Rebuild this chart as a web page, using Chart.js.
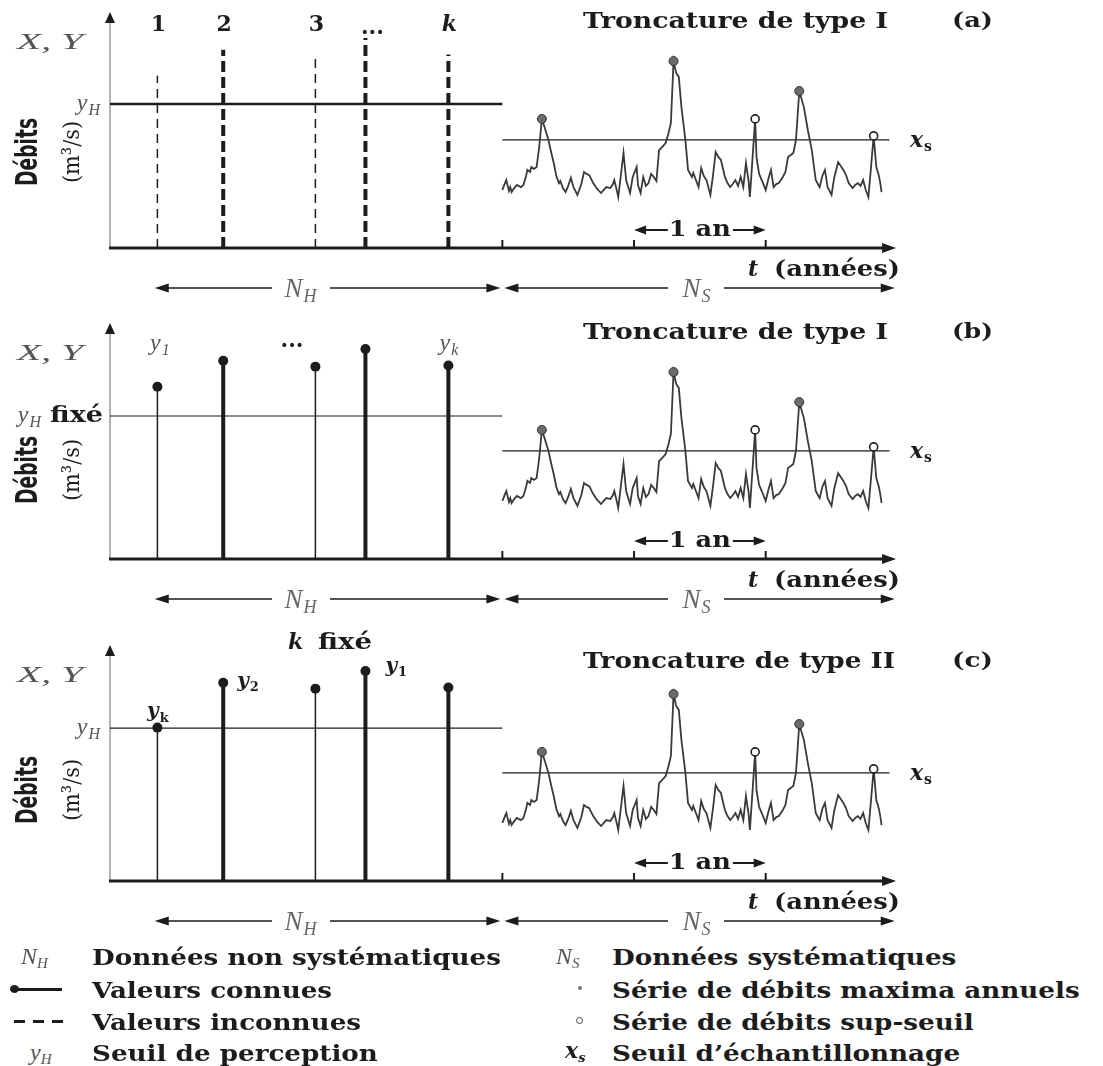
<!DOCTYPE html>
<html>
<head>
<meta charset="utf-8">
<script src="https://cdn.jsdelivr.net/npm/chart.js@4.4.1/dist/chart.umd.min.js"></script>
<style>
  body { margin: 0; background: #fff; width: 1103px; height: 1066px; position: relative; overflow: hidden; }
  canvas.panel { position: absolute; left: 0; }
  .lg { position: absolute; white-space: nowrap; transform: translateY(-50%); transform-origin: left center; color: #1c1c1c; }
  .txt { font: bold 22px "DejaVu Serif", serif; transform: translateY(-50%) scaleX(1.19); }
  .math { font: italic 24px "Liberation Serif", serif; color: #555; }
  .math sub { font-size: 15px; vertical-align: -4px; }
  .mathb { font: bold italic 22px "DejaVu Serif", serif; }
  .mathb sub { font-size: 13px; vertical-align: -4px; }
  .symline { position: absolute; height: 3px; background: #1c1c1c; }
  .symdot { position: absolute; width: 9px; height: 8px; border-radius: 50%; background: #1c1c1c; }
  .symdash { position: absolute; height: 3px; background: repeating-linear-gradient(90deg, #1c1c1c 0 11px, transparent 11px 19px); }
  .symmax { position: absolute; width: 4px; height: 4px; border-radius: 50%; background: #777; }
  .symsup { position: absolute; width: 5px; height: 5px; border-radius: 50%; border: 1.3px solid #444; }
</style>
</head>
<body>
<canvas id="pa" class="panel"></canvas>
<canvas id="pb" class="panel"></canvas>
<canvas id="pc" class="panel"></canvas>

<div class="lg math" style="left:21px;top:957px">N<sub>H</sub></div>
<div class="lg txt" style="left:92px;top:957px">Données non systématiques</div>
<div class="symline" style="left:14px;top:988px;width:48px"></div>
<div class="symdot" style="left:10px;top:985px"></div>
<div class="lg txt" style="left:92px;top:990px">Valeurs connues</div>
<div class="symdash" style="left:14px;top:1020px;width:49px"></div>
<div class="lg txt" style="left:92px;top:1022px">Valeurs inconnues</div>
<div class="lg math" style="left:30px;top:1053px">y<sub>H</sub></div>
<div class="lg txt" style="left:92px;top:1053px">Seuil de perception</div>

<div class="lg math" style="left:556px;top:957px">N<sub>S</sub></div>
<div class="lg txt" style="left:612px;top:957px">Données systématiques</div>
<div class="symmax" style="left:578px;top:986px"></div>
<div class="lg txt" style="left:612px;top:990px">Série de débits maxima annuels</div>
<div class="symsup" style="left:576px;top:1017px"></div>
<div class="lg txt" style="left:612px;top:1022px">Série de débits sup-seuil</div>
<div class="lg mathb" style="left:565px;top:1051px">x<sub>s</sub></div>
<div class="lg txt" style="left:612px;top:1053px">Seuil d’échantillonnage</div>

<script>
// données non systématiques (crues historiques)
const histYears = [0.36, 0.86, 1.56, 1.94, 2.57];
const histFlowsA = [73, 84, 81.5, 89, 82];
const histFlowsB = [73, 84, 81.5, 89, 82];
const histFlowsC = [65, 84, 81.5, 89, 82];
const topLabelsA = ['1', '2', '3', '...', 'k'];

// seuils
const yHValues = [61, 60.6, 64.8];
const xsValue = 45.8;

// données systématiques
const sysStart = 2.98;
const yearTicks = [2.98, 3.98, 4.98];
const seriesT = [2.98, 3.0, 3.01, 3.03, 3.04, 3.05, 3.07, 3.09, 3.12, 3.14, 3.16, 3.17, 3.19, 3.2, 3.22, 3.24,
  3.26, 3.28, 3.3, 3.33, 3.35, 3.37, 3.39, 3.41, 3.42, 3.44, 3.46, 3.48, 3.5, 3.52, 3.55, 3.58, 3.6, 3.62,
  3.64, 3.67, 3.7, 3.73, 3.75, 3.77, 3.8, 3.82, 3.83, 3.85, 3.86, 3.88, 3.9, 3.92, 3.95, 3.97, 4.0, 4.01,
  4.03, 4.05, 4.07, 4.09, 4.11, 4.13, 4.15, 4.17, 4.2, 4.22, 4.24, 4.26, 4.28, 4.3, 4.32, 4.34, 4.37, 4.39,
  4.42, 4.43, 4.45, 4.47, 4.49, 4.51, 4.53, 4.56, 4.58, 4.6, 4.62, 4.64, 4.67, 4.69, 4.71, 4.73, 4.75, 4.77,
  4.79, 4.81, 4.83, 4.85, 4.86, 4.88, 4.9, 4.91, 4.93, 4.95, 4.98, 5.0, 5.02, 5.04, 5.06, 5.08, 5.11, 5.13,
  5.15, 5.17, 5.19, 5.21, 5.235, 5.27, 5.3, 5.33, 5.36, 5.38, 5.39, 5.41, 5.43, 5.45, 5.48, 5.5, 5.53, 5.55,
  5.57, 5.59, 5.61, 5.64, 5.66, 5.68, 5.7, 5.72, 5.74, 5.76, 5.78, 5.8, 5.82, 5.84, 5.85, 5.86];
const seriesQ = [24.6, 27.5, 28.8, 24.2, 25.8, 23.7, 25.4, 26.7, 25.8, 26.7, 30.5, 33.1, 32.2, 34.3, 33.5,
  34.3, 42.8, 54.7, 51.3, 45.8, 40.7, 36, 30.5, 27.5, 28.4, 25.4, 23.7, 26.3, 29.7, 25.8, 22.5, 27.1, 32.2,
  31.4, 30.9, 27.5, 25, 23.3, 24.6, 25.8, 25.4, 27.1, 28.8, 24.2, 21.6, 30.9, 40.3, 28.8, 23.3, 30.1, 34.3,
  26.7, 23.3, 30.1, 26.3, 27.5, 31.4, 30.1, 28.4, 41.5, 43.2, 44.5, 48.3, 53, 79.2, 74.2, 72.5, 59.7, 45.8,
  33.1, 30.1, 31.8, 28.8, 25.8, 33.9, 30.5, 28.8, 22.5, 30.9, 40.7, 38.6, 37.3, 30.1, 27.5, 25.8, 27.1,
  28.8, 26.3, 30.1, 25.8, 36, 28.4, 21.6, 38.1, 54.7, 38.6, 31.4, 28.8, 24.6, 29.2, 33.1, 25.8, 27.1, 27.5,
  30.1, 32.2, 38.6, 39.4, 40.3, 45.8, 66.5, 59.7, 50, 41.5, 28.8, 26.7, 25.8, 30.5, 33.1, 25.8, 22.5, 29.7,
  36.4, 34.7, 33.1, 30.9, 27.5, 25.4, 26.7, 27.5, 26.3, 28.8, 24.6, 21.6, 34.3, 47.5, 34.3, 30.5, 27.5, 23.7];
const maxT = [3.28, 4.28, 5.235];
const maxQ = [54.7, 79.2, 66.5];
const supT = [4.9, 5.8];
const supQ = [54.7, 47.5];

const INK = '#1c1c1c';
const stemWidths = [1.5, 4, 1.5, 4, 4];

const panels = [
  { id: 'pa', top: 0, padTop: 12, flows: histFlowsA, yH: yHValues[0], dashed: true, title: 'Troncature de type I', tag: '(a)', titleOff: 10, deb: 96 },
  { id: 'pb', top: 311, padTop: 12, flows: histFlowsB, yH: yHValues[1], dashed: false, title: 'Troncature de type I', tag: '(b)', titleOff: 10, deb: 89 },
  { id: 'pc', top: 621, padTop: 24, flows: histFlowsC, yH: yHValues[2], dashed: false, title: 'Troncature de type II', tag: '(c)', titleOff: 17, deb: 91 }
];

function head(ctx, x, y, dir, len, half) {
  ctx.save();
  ctx.fillStyle = INK;
  ctx.beginPath();
  if (dir === 'up') { ctx.moveTo(x, y); ctx.lineTo(x - half, y + len); ctx.lineTo(x + half, y + len); }
  if (dir === 'right') { ctx.moveTo(x, y); ctx.lineTo(x - len, y - half); ctx.lineTo(x - len, y + half); }
  if (dir === 'left') { ctx.moveTo(x, y); ctx.lineTo(x + len, y - half); ctx.lineTo(x + len, y + half); }
  ctx.closePath();
  ctx.fill();
  ctx.restore();
}

function hline(ctx, x1, x2, y, w) {
  ctx.save();
  ctx.strokeStyle = INK; ctx.lineWidth = w;
  ctx.beginPath(); ctx.moveTo(x1, y); ctx.lineTo(x2, y); ctx.stroke();
  ctx.restore();
}

// texte, avec étirement horizontal optionnel pour tenir une largeur donnée
function txt(ctx, s, x, y, font, opt) {
  opt = opt || {};
  ctx.save();
  ctx.font = font;
  ctx.fillStyle = opt.color || INK;
  ctx.textBaseline = 'middle';
  const w = ctx.measureText(s).width;
  const sx = opt.width ? opt.width / w : (opt.sx || 1);
  let x0 = x;
  if (opt.align === 'center') x0 = x - w * sx / 2;
  if (opt.align === 'right') x0 = x - w * sx;
  ctx.translate(x0, y);
  ctx.scale(sx, 1);
  ctx.fillText(s, 0, 0);
  ctx.restore();
  return x0 + w * sx;
}

function math(ctx, base, sub, x, y, opt) {
  opt = opt || {};
  const bold = opt.bold;
  const size = opt.size || 23;
  const f1 = bold ? `bold italic ${size - 2}px "DejaVu Serif"` : `italic ${size}px "Liberation Serif"`;
  const f2 = bold ? `bold ${Math.round(size * 0.6)}px "DejaVu Serif"` : `italic ${Math.round(size * 0.65)}px "Liberation Serif"`;
  const color = opt.color || (bold ? INK : '#555');
  ctx.save();
  ctx.font = f1; const w1 = ctx.measureText(base).width;
  ctx.font = f2; const w2 = ctx.measureText(sub).width;
  ctx.restore();
  let x0 = x;
  if (opt.align === 'center') x0 = x - (w1 + w2) / 2;
  if (opt.align === 'right') x0 = x - (w1 + w2 + 1);
  txt(ctx, base, x0, y, f1, { color });
  txt(ctx, sub, x0 + w1 + 1, y + size * 0.28, f2, { color });
}

const schemaPlugin = {
  id: 'schema',
  beforeDatasetsDraw(chart, args, p) {
    const { ctx, chartArea: a, scales: { x } } = chart;
    // axe vertical
    ctx.save();
    ctx.strokeStyle = '#8c8c8c'; ctx.lineWidth = 1.3;
    ctx.beginPath(); ctx.moveTo(a.left, a.bottom); ctx.lineTo(a.left, a.top + 8); ctx.stroke();
    ctx.restore();
    head(ctx, a.left, a.top, 'up', 11, 5);
    // axe du temps
    const xEnd = x.getPixelForValue(5.97);
    hline(ctx, a.left - 1, xEnd - 8, a.bottom, 3);
    head(ctx, xEnd, a.bottom, 'right', 14, 5);
    ctx.save();
    ctx.strokeStyle = INK; ctx.lineWidth = 2;
    yearTicks.forEach(t => {
      const px = x.getPixelForValue(t);
      ctx.beginPath(); ctx.moveTo(px, a.bottom); ctx.lineTo(px, a.bottom - 8); ctx.stroke();
    });
    ctx.restore();
  },
  afterDatasetsDraw(chart, args, p) {
    const { ctx, chartArea: a, scales: { x, y } } = chart;
    const B = a.bottom;
    const T = a.top;
    const bold22 = 'bold 22px "DejaVu Serif"';

    // titre
    txt(ctx, p.title, 583, T + p.titleOff, bold22, { width: p.tag === '(c)' ? 312 : 305 });
    txt(ctx, p.tag, 952, T + p.titleOff, 'bold 21px "DejaVu Serif"', { width: 41 });

    // seuil d'échantillonnage
    math(ctx, 'x', 's', 910, y.getPixelForValue(xsValue) + 1, { bold: true, size: 24 });

    // 1 an
    const t1 = x.getPixelForValue(yearTicks[1]);
    const t2 = x.getPixelForValue(yearTicks[2]);
    const yAn = B - 18;
    const cx = (t1 + t2) / 2;
    hline(ctx, t1 + 8, cx - 32, yAn, 2);
    head(ctx, t1, yAn, 'left', 12, 4.5);
    txt(ctx, '1 an', cx, yAn, bold22, { align: 'center', width: 62 });
    hline(ctx, cx + 33, t2 - 8, yAn, 2);
    head(ctx, t2, yAn, 'right', 12, 4.5);

    // t (années)
    txt(ctx, 't', 748, B + 22, 'bold italic 22px "DejaVu Serif"');
    txt(ctx, '(années)', 774, B + 22, bold22, { width: 126 });

    // flèches N_H et N_S
    const yN = B + 40;
    const h0 = x.getPixelForValue(histYears[0] - 0.02);
    const s0 = x.getPixelForValue(sysStart);
    const sEnd = x.getPixelForValue(5.96);
    ctx.save(); ctx.strokeStyle = INK; ctx.lineWidth = 1.5;
    ctx.beginPath();
    ctx.moveTo(h0 + 10, yN); ctx.lineTo(272, yN);
    ctx.moveTo(330, yN); ctx.lineTo(s0 - 12, yN);
    ctx.moveTo(s0 + 12, yN); ctx.lineTo(668, yN);
    ctx.moveTo(724, yN); ctx.lineTo(sEnd - 10, yN);
    ctx.stroke(); ctx.restore();
    head(ctx, h0, yN, 'left', 14, 4.5);
    head(ctx, s0 - 2, yN, 'right', 14, 4.5);
    head(ctx, s0 + 2, yN, 'left', 14, 4.5);
    head(ctx, sEnd, yN, 'right', 14, 4.5);
    math(ctx, 'N', 'H', 300, yN + 2, { align: 'center', size: 27, color: '#666' });
    math(ctx, 'N', 'S', 696, yN + 2, { align: 'center', size: 27, color: '#666' });

    // axe des ordonnées
    txt(ctx, 'X, Y', 50, B - 205, 'italic 24px "Liberation Serif"', { align: 'center', color: '#555', width: 66 });
    ctx.save();
    ctx.translate(29, B - p.deb);
    ctx.rotate(-Math.PI / 2);
    txt(ctx, 'Débits', 0, 0, 'bold 31px "Liberation Sans Narrow", "DejaVu Sans Condensed", sans-serif', { align: 'center', width: 68 });
    ctx.restore();
    ctx.save();
    ctx.translate(73, B - p.deb);
    ctx.rotate(-Math.PI / 2);
    txt(ctx, '(m³/s)', 0, 0, '23px "DejaVu Serif"', { align: 'center', width: 62 });
    ctx.restore();

    const yHpx = y.getPixelForValue(p.yH);
    const stemTop = i => y.getPixelForValue(p.flows[i]);
    const stemX = i => x.getPixelForValue(histYears[i]);

    if (p.id === 'pa') {
      math(ctx, 'y', 'H', 100, yHpx, { align: 'right', size: 24 });
      topLabelsA.forEach((s, i) => {
        const f = s === 'k' ? 'bold italic 22px "DejaVu Serif"' : bold22;
        txt(ctx, s, stemX(i) + (s === '...' ? 7 : 1), B - 223 + (s === '...' ? 3 : 0), f, { align: 'center' });
      });
    }
    if (p.id === 'pb') {
      math(ctx, 'y', 'H', 41, yHpx, { align: 'right', size: 24 });
      txt(ctx, 'fixé', 50, yHpx, bold22, { width: 53 });
      math(ctx, 'y', '1', stemX(0) + 2, B - 215, { align: 'center', size: 24 });
      txt(ctx, '...', 292, B - 218, bold22, { align: 'center' });
      math(ctx, 'y', 'k', stemX(4), B - 215, { align: 'center', size: 24 });
    }
    if (p.id === 'pc') {
      math(ctx, 'y', 'H', 100, yHpx, { align: 'right', size: 24 });
      txt(ctx, 'k', 288, B - 238, 'bold italic 22px "DejaVu Serif"');
      txt(ctx, 'fixé', 318, B - 238, bold22, { width: 54 });
      math(ctx, 'y', 'k', stemX(0), yHpx - 16, { bold: true, size: 22, align: 'center' });
      math(ctx, 'y', '2', stemX(1) + 14, stemTop(1) - 1, { bold: true, size: 22 });
      math(ctx, 'y', '1', stemX(3) + 20, stemTop(3) - 4, { bold: true, size: 22 });
    }
  }
};

panels.forEach(p => {
  const canvas = document.getElementById(p.id);
  const h = p.padTop + 236 + 62;
  canvas.width = 1103;
  canvas.height = h;
  canvas.style.width = '1103px';
  canvas.style.height = h + 'px';
  canvas.style.top = p.top + 'px';

  const datasets = [];

  // points connus / inconnus
  histYears.forEach((t, i) => {
    const w = stemWidths[i];
    datasets.push({
      type: 'line',
      data: [{ x: t, y: 0 }, { x: t, y: p.flows[i] }],
      borderColor: INK,
      borderWidth: w,
      borderDash: p.dashed ? (w > 2 ? [11, 5] : [9, 6]) : [],
      borderCapStyle: 'butt',
      pointRadius: p.dashed ? 0 : [0, 5],
      pointBackgroundColor: INK,
      pointBorderWidth: 0,
      order: 3
    });
  });

  // seuil de perception
  datasets.push({
    type: 'line',
    data: [{ x: 0, y: p.yH }, { x: sysStart, y: p.yH }],
    borderColor: INK,
    borderWidth: p.dashed ? 2.6 : 1.2,
    pointRadius: 0,
    order: 4
  });

  // seuil d'échantillonnage
  datasets.push({
    type: 'line',
    data: [{ x: sysStart, y: xsValue }, { x: 5.92, y: xsValue }],
    borderColor: INK,
    borderWidth: 1.3,
    pointRadius: 0,
    order: 4
  });

  // série de débits
  datasets.push({
    type: 'line',
    data: seriesT.map((t, i) => ({ x: t, y: seriesQ[i] })),
    borderColor: '#3a3a3a',
    borderWidth: 1.8,
    tension: 0,
    pointRadius: 0,
    order: 2
  });

  // maxima annuels
  datasets.push({
    type: 'scatter',
    data: maxT.map((t, i) => ({ x: t, y: maxQ[i] })),
    backgroundColor: '#6b6b6b',
    borderColor: '#333',
    borderWidth: 1,
    pointRadius: 4.5,
    order: 0
  });

  // sup-seuil
  datasets.push({
    type: 'scatter',
    data: supT.map((t, i) => ({ x: t, y: supQ[i] })),
    backgroundColor: '#fff',
    borderColor: '#222',
    borderWidth: 1.6,
    pointRadius: 4,
    order: 0
  });

  new Chart(canvas, {
    type: 'line',
    data: { datasets },
    options: {
      responsive: false,
      animation: false,
      events: [],
      clip: false,
      layout: { padding: { left: 110, right: 203, top: p.padTop, bottom: 62 } },
      scales: {
        x: { type: 'linear', min: 0, max: 6, display: false },
        y: { type: 'linear', min: 0, max: 100, display: false }
      },
      plugins: {
        legend: { display: false },
        tooltip: { enabled: false },
        schema: p
      }
    },
    plugins: [schemaPlugin]
  });
});
</script>
</body>
</html>
